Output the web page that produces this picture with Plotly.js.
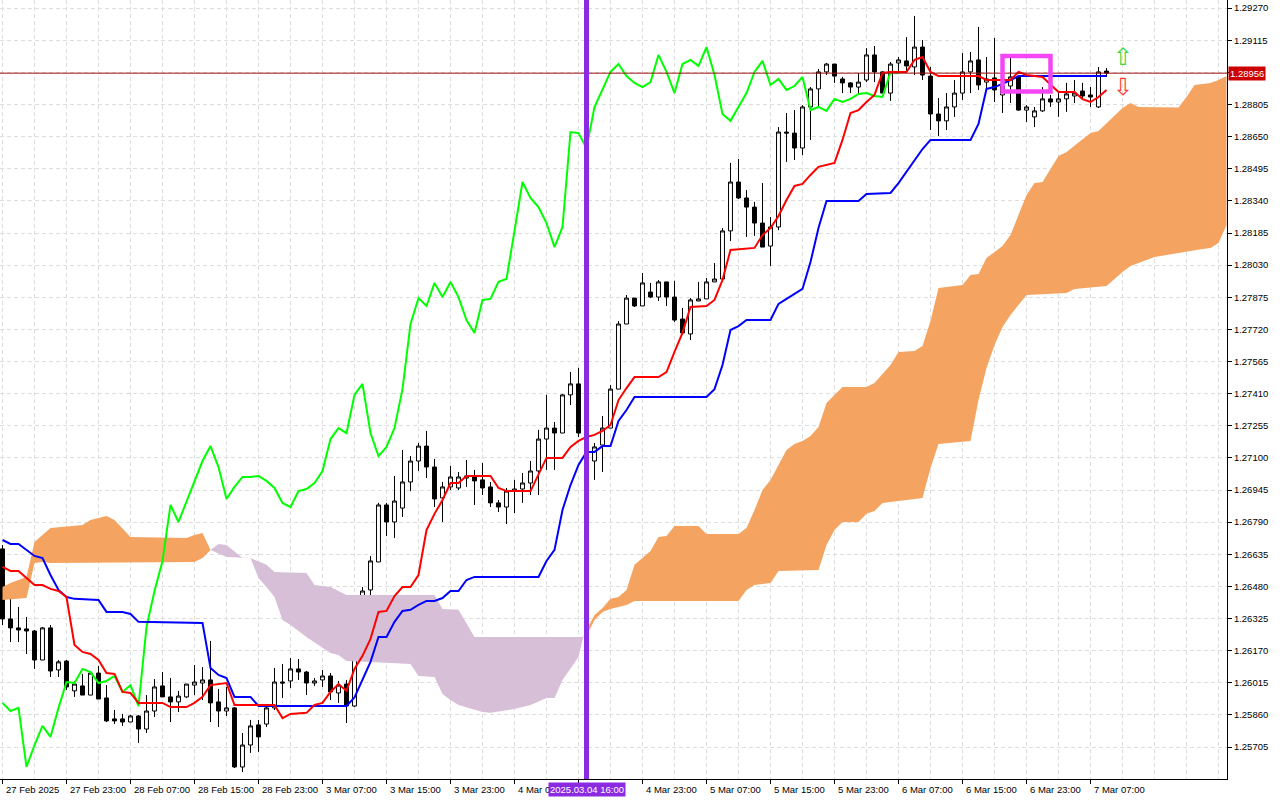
<!DOCTYPE html>
<html>
<head>
<meta charset="utf-8">
<script src="https://cdn.plot.ly/plotly-3.0.1.min.js"></script>
<style>html,body{margin:0;padding:0;background:#fff}#chart{width:1280px;height:800px}</style>
</head>
<body>
<div id="chart"></div>
<script>
// ---- GBPUSD-like H1 candles, bar 0 = 27 Feb 2025 15:00 ----
const opens = [
1.26661,1.26323,1.26280,1.26275,1.26265,1.26125,1.26280,1.26077,1.26120,1.25976,
1.26000,1.25956,1.26062,1.25942,1.25841,1.25841,1.25826,1.25855,1.25792,1.25879,
1.26000,1.25947,1.25923,1.25947,1.26004,1.26014,1.26029,1.25923,1.25879,1.25894,
1.25609,1.25715,1.25812,1.25816,1.25894,1.26019,1.26024,1.26082,1.26067,1.26014,
1.26029,1.26048,1.25966,1.26009,1.25903,1.26280,1.26463,1.26598,1.26873,1.26791,
1.26858,1.26984,1.27085,1.27157,1.27056,1.26907,1.26960,1.26955,1.27003,1.27008,
1.26994,1.26960,1.26883,1.26863,1.26940,1.26950,1.26979,1.27037,1.27191,1.27244,
1.27220,1.27404,1.27457,1.27220,1.27085,1.27162,1.27244,1.27432,1.27746,1.27871,
1.27833,1.27900,1.27876,1.27949,1.27876,1.27770,1.27698,1.27857,1.27867,1.27949,
1.27963,1.28195,1.28431,1.28354,1.28310,1.28233,1.28122,1.28214,1.28672,1.28667,
1.28595,1.28793,1.28880,1.28962,1.29000,1.28928,1.28909,1.28889,1.28923,1.29044,
1.28962,1.28860,1.29005,1.29015,1.28986,1.29082,1.28942,1.28759,1.28726,1.28793,
1.28860,1.28962,1.29020,1.28913,1.28933,1.28851,1.28894,1.28938,1.28778,1.28745,
1.28774,1.28832,1.28817,1.28832,1.28846,1.28870,1.28851,1.28793,1.28966];
const highs = [
1.26680,1.26444,1.26381,1.26333,1.26270,1.26284,1.26294,1.26125,1.26125,1.26024,
1.26058,1.26062,1.26096,1.26004,1.25884,1.25865,1.25860,1.25860,1.25956,1.26033,
1.26067,1.26038,1.25976,1.26009,1.26101,1.26091,1.26217,1.25985,1.25995,1.25898,
1.25773,1.25836,1.25836,1.25913,1.26087,1.26106,1.26135,1.26130,1.26072,1.26038,
1.26077,1.26062,1.26024,1.26029,1.26299,1.26477,1.26627,1.26883,1.26883,1.27013,
1.27138,1.27109,1.27172,1.27230,1.27095,1.26984,1.27061,1.27032,1.27090,1.27042,
1.27075,1.26984,1.26897,1.26955,1.26994,1.27027,1.27085,1.27235,1.27404,1.27273,
1.27408,1.27515,1.27534,1.27259,1.27172,1.27302,1.27452,1.27760,1.27886,1.27871,
1.27992,1.27944,1.27958,1.27949,1.27954,1.27823,1.27871,1.27949,1.27968,1.28040,
1.28209,1.28523,1.28542,1.28392,1.28335,1.28426,1.28262,1.28696,1.28764,1.28778,
1.28802,1.28889,1.28976,1.29005,1.29000,1.28938,1.28913,1.28957,1.29077,1.29087,
1.28966,1.29010,1.29034,1.29130,1.29232,1.29116,1.28986,1.28836,1.28860,1.28923,
1.29053,1.29058,1.29179,1.29034,1.29126,1.28971,1.29029,1.28942,1.28802,1.28793,
1.28889,1.28851,1.28860,1.28909,1.28923,1.28909,1.28889,1.28986,1.28981];
const lows = [
1.26294,1.26212,1.26212,1.26154,1.26082,1.26125,1.26043,1.26043,1.25980,1.25947,
1.25956,1.25956,1.25937,1.25826,1.25816,1.25807,1.25826,1.25725,1.25773,1.25850,
1.25947,1.25826,1.25874,1.25942,1.25956,1.25932,1.25826,1.25802,1.25855,1.25604,
1.25585,1.25677,1.25682,1.25802,1.25884,1.25942,1.25990,1.26029,1.25956,1.26000,
1.25995,1.25932,1.25918,1.25821,1.25898,1.26270,1.26410,1.26598,1.26723,1.26714,
1.26815,1.26940,1.27037,1.27003,1.26863,1.26791,1.26945,1.26945,1.26960,1.26873,
1.26921,1.26863,1.26839,1.26781,1.26834,1.26883,1.26921,1.26921,1.27042,1.27042,
1.27220,1.27355,1.27201,1.27080,1.26994,1.27032,1.27244,1.27432,1.27746,1.27828,
1.27833,1.27871,1.27857,1.27833,1.27756,1.27693,1.27669,1.27857,1.27867,1.27949,
1.27958,1.28146,1.28349,1.28166,1.28171,1.28117,1.28026,1.28199,1.28528,1.28537,
1.28561,1.28634,1.28793,1.28947,1.28909,1.28860,1.28860,1.28851,1.28913,1.28913,
1.28860,1.28822,1.28957,1.28957,1.28947,1.28923,1.28682,1.28653,1.28682,1.28745,
1.28827,1.28860,1.28875,1.28875,1.28817,1.28764,1.28812,1.28774,1.28720,1.28696,
1.28769,1.28793,1.28745,1.28769,1.28812,1.28836,1.28793,1.28788,1.28938];
const closes = [
1.26323,1.26280,1.26270,1.26265,1.26125,1.26280,1.26072,1.26116,1.25995,1.26009,
1.25956,1.26062,1.25937,1.25831,1.25831,1.25826,1.25855,1.25792,1.25879,1.25995,
1.25947,1.25923,1.25951,1.26009,1.26019,1.26029,1.25918,1.25879,1.25894,1.25609,
1.25715,1.25807,1.25754,1.25894,1.26019,1.26014,1.26082,1.26067,1.26014,1.26024,
1.26048,1.25971,1.26004,1.25903,1.26284,1.26458,1.26603,1.26873,1.26791,1.26892,
1.26984,1.27085,1.27157,1.27056,1.26902,1.26960,1.27008,1.27008,1.27013,1.26989,
1.26955,1.26883,1.26863,1.26940,1.26950,1.26979,1.27037,1.27191,1.27244,1.27220,
1.27404,1.27457,1.27220,1.27109,1.27153,1.27244,1.27432,1.27746,1.27871,1.27833,
1.27944,1.27876,1.27949,1.27876,1.27765,1.27703,1.27862,1.27867,1.27949,1.27963,
1.28195,1.28431,1.28354,1.28310,1.28233,1.28117,1.28214,1.28672,1.28667,1.28595,
1.28793,1.28880,1.28962,1.29000,1.28942,1.28909,1.28889,1.28913,1.29044,1.28962,
1.28860,1.29000,1.29020,1.28991,1.29082,1.28947,1.28759,1.28726,1.28793,1.28860,
1.28962,1.29015,1.28899,1.28928,1.28875,1.28894,1.28938,1.28778,1.28793,1.28774,
1.28832,1.28817,1.28832,1.28856,1.28860,1.28846,1.28841,1.28962,1.28956];

// ---- Ichimoku lines (vertices at bar numbers) ----
const tenkanBars = [0,1,2,4,5,6,7,8,9,10,11,12,13,14,15,16,17,20,21,23,24,25,26,28,29,34,35,36,38,39,40,41,42,43,44,45,46,47,48,49,50,51,52,53,54,55,56,57,58,61,62,63,66,67,68,70,71,72,73,74,75,76,77,78,79,82,83,84,85,86,88,89,90,91,94,95,96,97,98,99,100,101,102,104,105,106,107,108,109,110,111,113,114,115,116,117,122,123,126,127,128,130,131,132,134,135,136,137,138];
const tenkan = [1.26574,1.26555,1.26555,1.26487,1.26487,1.26468,1.26458,1.26429,1.26198,1.26164,1.26154,1.26125,1.26062,1.26058,1.25971,1.25966,1.25918,1.25918,1.25898,1.25898,1.25918,1.25947,1.26004,1.26014,1.25908,1.25908,1.25845,1.25865,1.25870,1.25908,1.25918,1.25971,1.26009,1.25976,1.26082,1.26145,1.26227,1.26357,1.26362,1.26434,1.26477,1.26477,1.26535,1.26752,1.26830,1.26897,1.26979,1.26979,1.27013,1.27013,1.26955,1.26940,1.26940,1.27018,1.27100,1.27100,1.27153,1.27182,1.27201,1.27211,1.27230,1.27259,1.27379,1.27437,1.27490,1.27490,1.27514,1.27611,1.27703,1.27828,1.27833,1.27862,1.27958,1.28103,1.28113,1.28175,1.28209,1.28267,1.28344,1.28412,1.28422,1.28465,1.28504,1.28523,1.28634,1.28764,1.28778,1.28817,1.28851,1.28957,1.28962,1.28962,1.29020,1.29034,1.28962,1.28942,1.28942,1.28923,1.28923,1.28962,1.28947,1.28938,1.28899,1.28865,1.28865,1.28831,1.28817,1.28841,1.28875];
const kijunBars = [0,1,2,4,5,6,7,8,9,12,13,15,16,17,25,26,27,28,29,31,32,43,44,45,46,47,48,49,50,51,52,53,54,55,56,57,58,59,67,68,69,70,71,72,73,74,75,76,77,78,79,88,89,90,91,92,93,96,97,98,100,101,102,103,107,108,111,112,113,114,115,116,121,122,123,124,125,126,127,138];
const kijun = [1.26704,1.26685,1.26685,1.26627,1.26617,1.26535,1.26463,1.26429,1.26420,1.26415,1.26357,1.26357,1.26347,1.26309,1.26304,1.26087,1.26053,1.26038,1.25947,1.25947,1.25903,1.25903,1.25945,1.26029,1.26116,1.26236,1.26236,1.26309,1.26362,1.26367,1.26391,1.26410,1.26410,1.26424,1.26458,1.26458,1.26511,1.26526,1.26526,1.26603,1.26656,1.26849,1.26969,1.27066,1.27129,1.27129,1.27157,1.27157,1.27278,1.27331,1.27394,1.27394,1.27432,1.27548,1.27717,1.27736,1.27765,1.27765,1.27843,1.27867,1.27915,1.28045,1.28209,1.28339,1.28339,1.28373,1.28378,1.28426,1.28479,1.28532,1.28590,1.28634,1.28634,1.28711,1.28880,1.28889,1.28904,1.28923,1.28942,1.28942];
const spanABars = [0,1,3,4,6,10,11,13,14,16,23,24,25,26,28,31,32,33,34,35,36,38,40,41,42,43,46,51,52,54,55,56,57,60,61,64,66,68,69,70,72,72.6,73,74,75,76,77,78,79,81,82,83,84,87,88,92,93,94,95,96,97,98,99,100,101,102,103,105,108,109,111,112,114,115,116,117,120,121,122,123,124,125,126,127,128,129,130,132,133,136,137,140,141,142,147,148,149,151,152,153];
const spanA = [1.26477,1.26497,1.26526,1.26694,1.26762,1.26776,1.26801,1.26820,1.26801,1.26719,1.26714,1.26728,1.26738,1.26656,1.26622,1.26617,1.26521,1.26477,1.26429,1.26318,1.26294,1.26236,1.26183,1.26159,1.26149,1.26120,1.26116,1.26106,1.26048,1.26043,1.25961,1.25932,1.25908,1.25874,1.25870,1.25889,1.25908,1.25942,1.25942,1.26029,1.26140,1.26236,1.26270,1.26342,1.26376,1.26420,1.26429,1.26463,1.26584,1.26651,1.26719,1.26723,1.26772,1.26772,1.26733,1.26733,1.26762,1.26849,1.26945,1.26994,1.27066,1.27138,1.27167,1.27182,1.27206,1.27249,1.27365,1.27442,1.27442,1.27461,1.27548,1.27611,1.27616,1.27640,1.27760,1.27920,1.27934,1.27982,1.27987,1.28064,1.28093,1.28122,1.28175,1.28272,1.28368,1.28426,1.28431,1.28556,1.28576,1.28667,1.28677,1.28788,1.28812,1.28793,1.28790,1.28841,1.28899,1.28909,1.28923,1.28942];
const spanBBars = [0,3,4,5,6,24,25,26,27,28,30,31,33,34,38,39,41,43,54,55,57,59,72,72.6,73,74,75,76,77,78,79,92,93,94,96,97,102,103,104,105,107,108,109,110,115,116,117,121,122,123,124,125,126,127,128,133,134,138,140,141,144,150,151,152,153];
const spanB = [1.26415,1.26424,1.26593,1.26598,1.26593,1.26598,1.26617,1.26656,1.26685,1.26680,1.26617,1.26617,1.26584,1.26550,1.26545,1.26487,1.26477,1.26439,1.26439,1.26371,1.26367,1.26236,1.26236,1.26236,1.26241,1.26318,1.26357,1.26371,1.26381,1.26391,1.26410,1.26410,1.26463,1.26487,1.26497,1.26555,1.26559,1.26680,1.26752,1.26791,1.26791,1.26830,1.26844,1.26883,1.26907,1.27051,1.27167,1.27182,1.27379,1.27534,1.27645,1.27732,1.27789,1.27838,1.27886,1.27896,1.27915,1.27929,1.27997,1.28026,1.28069,1.28108,1.28113,1.28137,1.28224];
// cloud colour segments: [startBar, endBar, A above B?]
const cloudSegments = [[0,26,true],[26,72.6,false],[72.6,153,true]];

// ---- axes labels ----
const priceTicks = [1.29270,1.29115,1.28960,1.28805,1.28650,1.28495,1.28340,1.28185,1.28030,1.27875,1.27720,1.27565,1.27410,1.27255,1.27100,1.26945,1.26790,1.26635,1.26480,1.26325,1.26170,1.26015,1.25860,1.25705];
const timeTickBars = [0,8,16,24,32,40,48,56,64,72,80,88,96,104,112,120,128,136];
// bar 72 (4 Mar 15:00) label is hidden behind the time marker, as in the source
const timeTickText = ["27 Feb 2025","27 Feb 23:00","28 Feb 07:00","28 Feb 15:00","28 Feb 23:00","3 Mar 07:00","3 Mar 15:00","3 Mar 23:00","4 Mar 07:00","","4 Mar 23:00","5 Mar 07:00","5 Mar 15:00","5 Mar 23:00","6 Mar 07:00","6 Mar 15:00","6 Mar 23:00","7 Mar 07:00"];
const markerBar = 73, markerTime = "2025.03.04 16:00";
const boxBars = [125,131], boxPrices = [1.28868,1.29039];
const signalBar = 140, signalUp = 1.29034, signalDown = 1.28889;

// ---- build ----
const bars = closes.map((_, i) => i);
const SANDY = '#F4A460', THISTLE = '#D8BFD8';

function cloudPoly(a, b, color) {
  const xs = [], ys = [];
  spanABars.forEach((k, i) => { if (k >= a && k <= b) { xs.push(k); ys.push(spanA[i]); } });
  for (let i = spanBBars.length - 1; i >= 0; i--) {
    const k = spanBBars[i];
    if (k >= a && k <= b) { xs.push(k); ys.push(spanB[i]); }
  }
  return {type:'scatter', mode:'lines', x:xs, y:ys, fill:'toself', fillcolor:color,
          line:{width:0, color:color}, hoverinfo:'skip', showlegend:false};
}

const traces = cloudSegments.map(s => cloudPoly(s[0], s[1], s[2] ? SANDY : THISTLE));
traces.push({
  type:'candlestick', x:bars, open:opens, high:highs, low:lows, close:closes,
  increasing:{line:{color:'#000000', width:1}, fillcolor:'#FFFFFF'},
  decreasing:{line:{color:'#000000', width:1}, fillcolor:'#000000'},
  whiskerwidth:0, hoverinfo:'skip', showlegend:false
});
// Chikou span: close drawn 26 bars back
traces.push({type:'scatter', mode:'lines', x:bars.slice(26).map(k => k - 26), y:closes.slice(26),
  line:{color:'#00FF00', width:2}, hoverinfo:'skip', showlegend:false});
traces.push({type:'scatter', mode:'lines', x:kijunBars, y:kijun,
  line:{color:'#0000FF', width:2}, hoverinfo:'skip', showlegend:false});
traces.push({type:'scatter', mode:'lines', x:tenkanBars, y:tenkan,
  line:{color:'#FF0000', width:2}, hoverinfo:'skip', showlegend:false});

const minorBars = [];
for (let k = 4; k <= 152; k += 4) if (timeTickBars.indexOf(k) < 0) minorBars.push(k);

const lastClose = closes[closes.length - 1];
const GRID = '#dedede';
const annotations = [];
timeTickBars.forEach((b, i) => {
  if (!timeTickText[i]) return;
  annotations.push({
    x:b, y:0, xref:'x', yref:'paper', text:timeTickText[i], showarrow:false,
    xanchor:'left', yanchor:'top', xshift:1, yshift:-3, font:{size:9.5, color:'#000'}
  });
});
annotations.push({x:markerBar, y:0, xref:'x', yref:'paper', text:markerTime, showarrow:false,
  xanchor:'center', yanchor:'top', yshift:-3, bgcolor:'#8A2BE2', borderpad:1,
  font:{size:9.5, color:'#FFFFFF'}});
annotations.push({x:1, xref:'paper', y:lastClose, yref:'y', text:lastClose.toFixed(5), showarrow:false,
  xanchor:'left', yanchor:'middle', xshift:1, bgcolor:'#CD0000', borderpad:1,
  font:{size:9.5, color:'#FFFFFF'}});
annotations.push({x:signalBar, y:signalUp, xref:'x', yref:'y', text:'\u21E7', showarrow:false,
  font:{family:'DejaVu Sans', size:24, color:'#3CD83C'}});
annotations.push({x:signalBar, y:signalDown, xref:'x', yref:'y', text:'\u21E9', showarrow:false,
  font:{family:'DejaVu Sans', size:24, color:'#FF3C3C'}});

// the price-scale label nearest the current price is covered by the price tag
const priceTickText = priceTicks.map(v => Math.abs(v - lastClose) < 0.0008 ? '' : v.toFixed(5));

const layout = {
  width:1280, height:800,
  margin:{l:0, r:53, t:0, b:21, pad:0},
  paper_bgcolor:'#FFFFFF', plot_bgcolor:'#FFFFFF',
  showlegend:false,
  font:{family:'Liberation Sans, Arial, sans-serif', size:9.5, color:'#000'},
  xaxis:{
    type:'linear', range:[-0.3125, 153.0625], fixedrange:true,
    tickmode:'array', tickvals:timeTickBars, showticklabels:false,
    ticks:'outside', ticklen:4, tickcolor:'#000', tickwidth:1,
    showgrid:true, gridcolor:GRID, gridwidth:1, griddash:'4px,3px',
    minor:{tickmode:'array', tickvals:minorBars, ticks:'', showgrid:true, gridcolor:GRID, gridwidth:1, griddash:'4px,3px'},
    showline:true, linecolor:'#000', linewidth:1, zeroline:false,
    rangeslider:{visible:false}
  },
  yaxis:{
    side:'right', range:[1.25551, 1.29309], fixedrange:true,
    tickmode:'array', tickvals:priceTicks, ticktext:priceTickText,
    ticks:'outside', ticklen:4, tickcolor:'#000', tickwidth:1,
    showgrid:true, gridcolor:GRID, gridwidth:1, griddash:'4px,3px',
    showline:true, linecolor:'#000', linewidth:1, zeroline:false,
    tickfont:{size:9.5, color:'#000'}
  },
  shapes:[
    {type:'line', xref:'paper', x0:0, x1:1, yref:'y', y0:lastClose, y1:lastClose,
     line:{color:'#A01010', width:1}, layer:'above'},
    {type:'line', xref:'x', x0:markerBar, x1:markerBar, yref:'paper', y0:0, y1:1,
     line:{color:'#8A2BE2', width:5}, layer:'above'},
    {type:'rect', xref:'x', yref:'y', x0:boxBars[0], x1:boxBars[1], y0:boxPrices[0], y1:boxPrices[1],
     line:{color:'#F546F5', width:4.5}, fillcolor:'rgba(0,0,0,0)', layer:'above'}
  ],
  annotations:annotations
};

Plotly.newPlot('chart', traces, layout, {staticPlot:true, displayModeBar:false});
</script>
</body>
</html>
